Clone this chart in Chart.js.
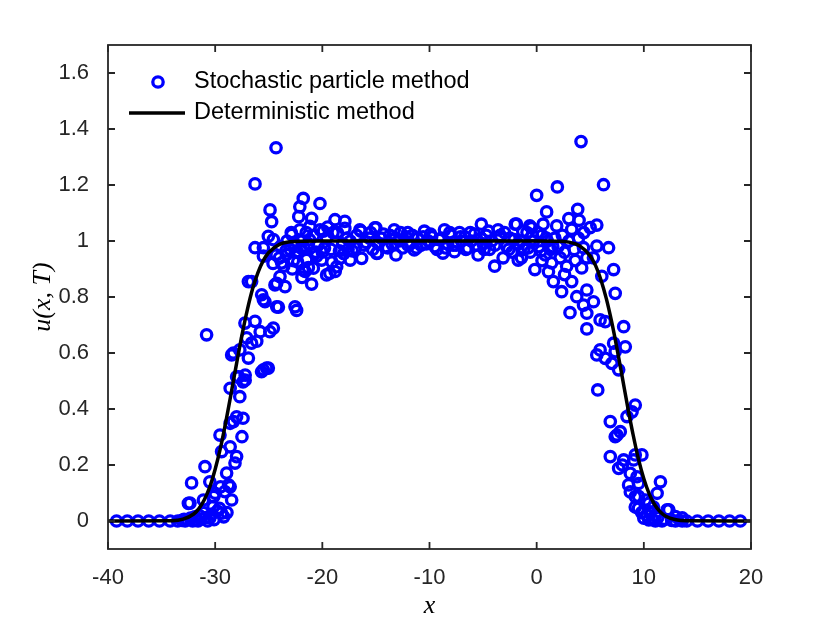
<!DOCTYPE html>
<html>
<head>
<meta charset="utf-8">
<script src="https://cdn.jsdelivr.net/npm/chart.js@4.4.0/dist/chart.umd.min.js"></script>
<style>
  html, body { margin: 0; padding: 0; background: #fff; }
  #plot { display: block; }
</style>
</head>
<body>
<canvas id="plot" width="830" height="623"></canvas>
<script>
// Particle positions / values
const particleX = [
  -39.2, -38.2, -37.2, -36.2, -35.2, -34.2,
  -33.5, -33.1, -32.8, -32.6, -32.3, -32.1, -31.9, -31.7, -31.5, -31.3, -31.1, -30.9, -30.7, -30.5,
  -30.3, -30.1, -29.8, -31.6, -32.9, -29.2, -28.9, -29.6,
  -32.5, -32.35, -32.2, -31.1, -30.2, -29.4, -30.5, -30.95, -30.0, -29.1, -28.46, -28.6, -28.75,
  -28.93, -28.15, -28.0, -29.4, -28.6, -29.55, -27.5, -28.6, -27.4, -28.0, -28.3, -27.7, -28.6,
  -27.4, -27.2, -27.2, -28.0, -27.8, -25.67, -25.2, -25.5, -25.04, -26.9, -28.46, -28.3, -27.7,
  -26.6, -27.06, -26.12, -30.8, -24.57, -25.8, -24.9, -27.22, -26.28, -24.26, -25.35, -24.1,
  -25.5, -25.66, -22.4, -22.55, -30.13, -29.5,
  -26.6, -26.9, -24.42, -23.48, -24.26, -23.95, -21.0, -19.6, -21.6, -20.84, -18.66, -21.47,
  -20.53, -23.8, -23.33, -25.5, -26.28, -25.5, -25.04, -24.57, -22.86, -21.16, -19.9, -24.73,
  -24.88, -26.28, -24.32, -21.78, -20.22, -22.1, -22.2, -21.0, -18.82, -17.9, -15.1, -16.5,
  -20.07, -18.35, -17.4, -16.33, -14.93, -18.8, -19.3, -21.78,
  -23.0, -22.6, -22.3, -21.9, -23.3, -22.0, -21.3, -20.8, -20.4, -19.6, -19.2, -18.6, -18.1,
  -17.7, -17.2, -16.8, -16.1, -15.6, -15.3, -19.5, -21.5, -23.9, -24.3, -23.6, -22.7, -20.0, -18.0,
  -15.0, -13.29, -12.03, -10.48, -8.6, -7.2, -5.16, -3.6, -2.0, -0.48,
  -14.85, -13.13, -11.42, -8.75, -7.67, -5.47, -3.92, -3.13, -1.72, -0.17,
  -14.5, -14.1, -13.7, -13.5, -12.8, -12.5, -12.2, -11.8, -11.1, -10.8, -10.1, -9.8, -9.5, -9.1,
  -8.3, -8.0, -7.8, -7.0, -6.7, -6.4, -6.1, -5.8, -5.0, -4.7, -4.4, -4.2, -3.4, -2.8, -2.5, -2.3,
  -1.5, -1.2, -0.9, -0.6, -0.3, 0.2, 0.5, 0.8, -1.88, -0.64,
  -22.9, -22.5, -22.1, -21.7, -21.2, -20.6, -20.2, -19.8, -19.0, -18.4, -17.9, -17.4, -16.9,
  -16.4, -15.9, -15.5, -14.8, -14.3, -13.9, -13.2, -12.7, -12.0, -11.6, -11.2, -10.6, -10.3,
  -9.9, -9.3, -8.9, -8.5, -8.1, -7.5, -7.1, -6.6, -6.2, -5.6, -5.2, -4.9, -4.5, -3.9, -3.5,
  -3.0, -2.6, -2.1, -1.7, -1.3, -0.8, -0.4, 0.1, 0.4, 0.9, 1.5,
  -24.6, -24.0, -23.4, -22.8, -22.3, -21.9, -21.3, -20.7, -19.1, -17.6,
  0.0, 1.93, 4.14, 6.24, 0.93, 3.83, 3.96, 1.87, 4.99, 5.61, 3.27, 5.61, 6.71, 4.37, 4.68, 5.3,
  7.18, 6.08, 4.2, 2.8, 1.4, -1.42, 1.56, 3.27, 2.33, 4.68, 7.33, 3.74, 5.3, 4.37, 3.11, 4.68,
  5.92, 6.4, 4.68, 8.12, 8.27, 7.18, 5.92, 5.61, 6.4, 7.02, 7.33, 7.65,
  1.0, 1.3, 1.7, 2.0, 2.4, 2.6, 3.0, 3.5, 3.9, 4.4, 2.2, 3.6, 0.5, 1.1, 2.6, 0.6, 3.0,
  5.7, 9.2, 8.43, 6.87, 7.8, 7.33, 7.49, 9.2, 6.87, 8.12, 7.65, 8.74, 8.58, 11.55, 9.5, 9.2,
  11.24, 10.46, 9.5, 12.17, 11.08, 10.46, 12.95, 13.58, 9.82, 9.05, 9.36, 8.74, 9.2, 10.14,
  10.6, 11.08, 12.33, 11.7, 12.95, 13.58, 8.9, 8.0, 9.5,
  10.0, 10.3, 10.8, 11.3, 11.9, 12.6, 9.8, 10.9,
  14, 15, 16, 17, 18, 19
];
const particleU = [
  0, 0, 0, 0, 0, 0,
  0, 0.002, 0.0, 0.005, 0.01, 0.0, 0.015, 0.004, 0.02, 0.008, 0.03, 0.012, 0.0, 0.011,
  0.025, 0.005, 0.035, 0.0, 0.006, 0.015, 0.03, 0.045,
  0.063, 0.064, 0.136, 0.075, 0.051, 0.028, 0.140, 0.194, 0.099, 0.105, 0.075, 0.122, 0.129,
  0.171, 0.207, 0.230, 0.248, 0.265, 0.307, 0.301, 0.349, 0.367, 0.372, 0.355, 0.444, 0.474,
  0.497, 0.503, 0.521, 0.515, 0.515, 0.533, 0.546, 0.540, 0.546, 0.582, 0.593, 0.600, 0.611,
  0.635, 0.654, 0.642, 0.665, 0.689, 0.676, 0.676, 0.707, 0.713, 0.765, 0.783, 0.764,
  0.790, 0.808, 0.752, 0.765, 0.087, 0.122,
  0.855, 0.855, 0.843, 0.837, 0.849, 0.873, 0.846, 0.879, 0.891, 0.903, 0.908, 0.934,
  0.946, 0.922, 0.952, 0.946, 0.976, 0.976, 1.017, 1.005, 1.023, 1.052, 1.035, 1.069,
  1.111, 1.204, 1.333, 1.152, 1.134, 1.122, 1.087, 1.081, 1.076, 1.07, 1.047, 1.04,
  0.932, 0.938, 0.932, 0.938, 0.956, 0.891, 0.885, 0.896,
  0.97, 0.99, 0.96, 1.0, 1.0, 0.975, 0.99, 1.02, 0.985, 1.01, 0.97, 1.03, 0.99,
  1.01, 0.965, 1.02, 0.985, 1.01, 0.97, 1.05, 1.03, 0.98, 0.95, 0.91, 0.93, 0.96, 0.955,
  1.047, 1.04, 1.03, 1.035, 1.04, 1.03, 1.06, 1.04, 1.06, 1.047,
  0.957, 0.95, 0.968, 0.957, 0.962, 0.95, 0.91, 0.94, 0.932, 0.898,
  1.01, 0.98, 1.02, 0.99, 1.0, 0.975, 1.015, 0.99, 1.01, 0.985, 1.0, 1.015, 0.98, 1.005,
  0.99, 1.02, 0.985, 1.0, 1.015, 0.975, 1.0, 1.025, 0.99, 1.02, 0.97, 1.0, 1.02, 0.98, 1.01, 0.96,
  1.0, 0.97, 1.03, 0.96, 1.0, 0.98, 1.02, 0.95, 1.06, 1.054,
  1.03, 0.96, 1.04, 0.975, 1.005, 0.96, 1.04, 0.975, 1.03, 0.965, 1.045, 1.0, 0.975,
  1.035, 0.995, 1.03, 0.99, 1.025, 0.975, 1.01, 1.03, 0.985, 1.02, 0.975, 1.015, 0.99,
  1.025, 0.97, 1.01, 0.975, 1.03, 0.985, 1.015, 0.97, 1.03, 0.985, 1.01, 0.97, 1.035, 0.985, 1.015,
  1.03, 0.97, 1.005, 0.99, 1.035, 0.975, 1.02, 1.03, 0.965, 1.01, 0.98,
  0.92, 0.94, 0.965, 0.9, 0.925, 0.87, 0.905, 0.955, 0.925, 0.97,
  1.163, 1.193, 1.355, 1.201, 1.104, 1.113, 1.074, 1.054, 1.048, 1.057, 1.042, 0.982, 0.976, 0.976, 0.94, 0.94,
  0.898, 0.874, 0.904, 0.91, 0.922, 0.94, 0.855, 0.855, 0.819, 0.825, 0.813, 0.801, 0.783, 0.771, 0.744, 0.742,
  0.718, 0.712, 0.686, 0.694, 0.622, 0.635, 0.611, 0.593, 0.581, 0.563, 0.605, 0.54,
  1.0, 0.97, 1.01, 0.98, 1.02, 0.96, 1.0, 0.97, 1.01, 1.03, 0.94, 0.93, 0.93, 0.89, 0.88, 1.06, 1.08,
  0.468, 0.414, 0.373, 0.355, 0.319, 0.301, 0.307, 0.236, 0.23, 0.218, 0.188, 0.17, 0.129, 0.14, 0.134, 0.087,
  0.099, 0.063, 0.045, 0.04, 0.022, 0.004, 0.016, 0.011, 0.236, 0.218, 0.158, 0.104, 0.05, 0.075,
  0.033, 0.0, 0.04, 0.0, 0.0, 0.0, 0.39, 0.2, 0.088,
  0.01, 0.02, 0.005, 0.012, 0.006, 0.002, 0.03, 0.05,
  0, 0, 0, 0, 0, 0
];

// Deterministic solution
const detX = [-40, -34, -33, -32, -31.5, -31, -30.5, -30, -29.5, -29, -28.5, -28, -27.5, -27,
  -26.5, -26, -25.5, -25, -24, -23, -22, -20, 0, 2, 3, 4, 5, 5.5, 6, 6.5, 7, 7.5, 8, 8.5, 9,
  9.5, 10, 10.5, 11, 11.5, 12, 13, 14, 20];
const detU = [0, 0.001, 0.0065, 0.025, 0.045, 0.077, 0.122, 0.185, 0.262, 0.355, 0.458, 0.563,
  0.664, 0.754, 0.830, 0.888, 0.931, 0.959, 0.988, 0.997, 0.9995, 1, 1, 0.9993, 0.996, 0.983,
  0.946, 0.912, 0.861, 0.794, 0.711, 0.615, 0.511, 0.406, 0.308, 0.221, 0.151, 0.097, 0.059,
  0.034, 0.018, 0.0045, 0.001, 0];

const xTicks = [-40, -30, -20, -10, 0, 10, 20];
const yTicks = [0, 0.2, 0.4, 0.6, 0.8, 1, 1.2, 1.4, 1.6];
const seriesNames = ['Stochastic particle method', 'Deterministic method'];

const axisColor = '#262626';
const tickFont = { family: 'Liberation Sans', size: 22 };

// box + inward ticks on all four sides, plus legend inside the axes
const boxPlugin = {
  id: 'matlabBox',
  afterDraw(chart) {
    const { ctx, chartArea: a, scales: { x, y } } = chart;
    const len = 7;
    ctx.save();
    ctx.strokeStyle = axisColor;
    ctx.lineWidth = 1.8;
    ctx.beginPath();
    xTicks.forEach(v => {
      const px = x.getPixelForValue(v);
      ctx.moveTo(px, a.bottom); ctx.lineTo(px, a.bottom - len);
      ctx.moveTo(px, a.top); ctx.lineTo(px, a.top + len);
    });
    yTicks.forEach(v => {
      const py = y.getPixelForValue(v);
      ctx.moveTo(a.left, py); ctx.lineTo(a.left + len, py);
      ctx.moveTo(a.right, py); ctx.lineTo(a.right - len, py);
    });
    ctx.stroke();
    ctx.strokeRect(a.left, a.top, a.right - a.left, a.bottom - a.top);

    // legend
    ctx.font = '23.5px "Liberation Sans"';
    ctx.fillStyle = '#000';
    ctx.textBaseline = 'middle';
    ctx.textAlign = 'left';
    ctx.strokeStyle = '#0000ff';
    ctx.lineWidth = 3.3;
    ctx.beginPath();
    ctx.arc(158, 82, 5.2, 0, Math.PI * 2);
    ctx.stroke();
    ctx.fillText(seriesNames[0], 194, 82);
    ctx.strokeStyle = '#000';
    ctx.lineWidth = 3.5;
    ctx.beginPath();
    ctx.moveTo(129, 113); ctx.lineTo(185, 113);
    ctx.stroke();
    ctx.fillText(seriesNames[1], 194, 113);
    ctx.restore();
  }
};

new Chart(document.getElementById('plot'), {
  type: 'scatter',
  data: {
    datasets: [
      {
        // drawn on top of the circles
        label: seriesNames[1],
        data: detX.map((v, i) => ({ x: v, y: detU[i] })),
        showLine: true,
        borderColor: '#000',
        borderWidth: 3.5,
        pointRadius: 0,
        cubicInterpolationMode: 'monotone'
      },
      {
        label: seriesNames[0],
        data: particleX.map((v, i) => ({ x: v, y: particleU[i] })),
        showLine: false,
        pointStyle: 'circle',
        pointRadius: 5.2,
        borderWidth: 3.3,
        borderColor: '#0000ff',
        backgroundColor: 'rgba(0,0,0,0)'
      }
    ]
  },
  options: {
    responsive: false,
    animation: false,
    devicePixelRatio: 1,
    layout: { padding: { top: 45, right: 79, left: 0, bottom: 0 } },
    plugins: { legend: { display: false }, tooltip: { enabled: false } },
    scales: {
      x: {
        type: 'linear',
        min: -40, max: 20,
        grid: { display: false },
        border: { display: false },
        afterBuildTicks: s => { s.ticks = xTicks.map(v => ({ value: v })); },
        afterFit: s => { s.height = 74; },
        ticks: { color: axisColor, font: tickFont, padding: 8, maxRotation: 0 },
        title: {
          display: true, text: 'x', color: '#000',
          font: { family: 'Liberation Serif', style: 'italic', size: 26 },
          padding: { top: 0, bottom: 1 }
        }
      },
      y: {
        type: 'linear',
        min: -0.1, max: 1.7,
        grid: { display: false },
        border: { display: false },
        afterBuildTicks: s => { s.ticks = yTicks.map(v => ({ value: v })); },
        afterFit: s => { s.width = 108; },
        ticks: { color: axisColor, font: tickFont, padding: 11, callback: v => String(v) },
        title: {
          display: true, text: 'u(x, T)', color: '#000',
          font: { family: 'Liberation Serif', style: 'italic', size: 26 },
          padding: { top: 28, bottom: 0 }
        }
      }
    }
  },
  plugins: [boxPlugin]
});
</script>
</body>
</html>
